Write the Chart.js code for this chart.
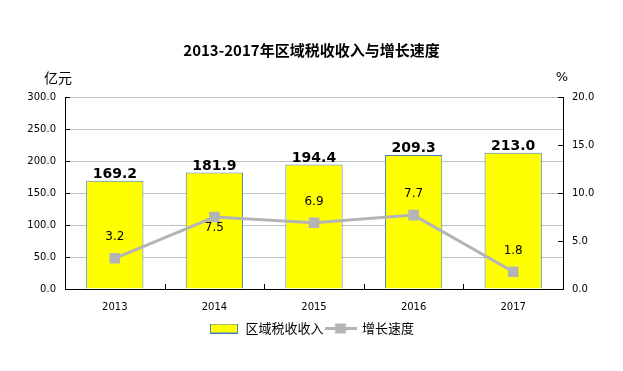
<!DOCTYPE html>
<html>
<head>
<meta charset="utf-8">
<script src="https://cdn.jsdelivr.net/npm/chart.js@4"></script>
<style>
  html, body { margin: 0; padding: 0; background: #fff; }
  #wrap { width: 623px; height: 371px; }
</style>
</head>
<body>
<div id="wrap"><canvas id="chart" width="623" height="371"></canvas></div>
<script>
const years = ['2013', '2014', '2015', '2016', '2017'];
const taxIncome = [169.2, 181.9, 194.4, 209.3, 213.0];
const growthRate = [3.2, 7.5, 6.9, 7.7, 1.8];
const leftTicks = [0, 50, 100, 150, 200, 250, 300];
const rightTicks = [0, 5, 10, 15, 20];

const CJK = '"Noto Sans CJK SC", "DejaVu Sans", sans-serif';
const NUM = '"DejaVu Sans", sans-serif';

// legend markers
function legendBarIcon() {
  const c = document.createElement('canvas');
  c.width = 28; c.height = 10;
  const g = c.getContext('2d');
  g.fillStyle = '#FFFF00';
  g.fillRect(0.5, 0.5, 27, 9);
  g.strokeStyle = '#4A7EBB';
  g.lineWidth = 1;
  g.strokeRect(0.5, 0.5, 27, 9);
  return c;
}
function legendLineIcon() {
  const c = document.createElement('canvas');
  c.width = 32; c.height = 11;
  const g = c.getContext('2d');
  g.strokeStyle = '#B4B4B4';
  g.lineWidth = 3;
  g.beginPath(); g.moveTo(0, 5.5); g.lineTo(32, 5.5); g.stroke();
  g.fillStyle = '#B4B4B4';
  g.fillRect(10.5, 0.5, 11, 10);
  return c;
}

// units, inner tick marks, value labels
const extras = {
  id: 'extras',
  afterDatasetsDraw(chart) {
    const ctx = chart.ctx;
    const x = chart.scales.x, y = chart.scales.y, y1 = chart.scales.y1;
    const area = chart.chartArea;
    ctx.save();
    ctx.strokeStyle = '#000';
    ctx.lineWidth = 1;
    ctx.beginPath();
    leftTicks.forEach(v => {
      const py = Math.round(y.getPixelForValue(v)) + 0.5;
      ctx.moveTo(area.left, py); ctx.lineTo(area.left + 5, py);
    });
    rightTicks.forEach(v => {
      const py = Math.round(y1.getPixelForValue(v)) + 0.5;
      ctx.moveTo(area.right - 5, py); ctx.lineTo(area.right, py);
    });
    for (let i = 0; i < years.length - 1; i++) {
      const px = Math.round((x.getPixelForValue(i) + x.getPixelForValue(i + 1)) / 2) + 0.5;
      ctx.moveTo(px, area.bottom); ctx.lineTo(px, area.bottom - 5);
    }
    ctx.stroke();

    ctx.fillStyle = '#000';
    ctx.textAlign = 'center';
    ctx.textBaseline = 'middle';
    ctx.font = '14px ' + CJK;
    ctx.fillText('亿元', 58, 78);
    ctx.font = '13px ' + NUM;
    ctx.fillText('%', 562, 78);

    const bars = chart.getDatasetMeta(0).data;
    ctx.font = 'bold 14px ' + NUM;
    ctx.textBaseline = 'alphabetic';
    bars.forEach((b, i) => {
      ctx.fillText(taxIncome[i].toFixed(1), b.x, b.y - 3);
    });
    const pts = chart.getDatasetMeta(1).data;
    ctx.font = '12px ' + NUM;
    ctx.textBaseline = 'middle';
    pts.forEach((p, i) => {
      const below = i === 1;
      ctx.fillText(growthRate[i].toFixed(1), p.x, below ? p.y + 11 : p.y - 21);
    });
    ctx.restore();
  }
};

new Chart(document.getElementById('chart'), {
  type: 'bar',
  data: {
    labels: years,
    datasets: [{
      type: 'bar',
      label: '区域税收收入',
      data: taxIncome,
      yAxisID: 'y',
      backgroundColor: '#FFFF00',
      borderColor: '#4A7EBB',
      borderWidth: 1,
      categoryPercentage: 1,
      barPercentage: 0.575,
      order: 2
    }, {
      type: 'line',
      label: '增长速度',
      data: growthRate,
      yAxisID: 'y1',
      borderColor: '#B4B4B4',
      backgroundColor: '#B4B4B4',
      borderWidth: 3,
      pointStyle: 'rect',
      pointRadius: 7.5,
      pointBorderWidth: 0,
      pointBackgroundColor: '#B4B4B4',
      order: 1
    }]
  },
  options: {
    responsive: false,
    animation: false,
    layout: { padding: { left: 0, right: 0, top: 0, bottom: 26 } },
    plugins: {
      title: {
        display: true,
        text: '2013-2017年区域税收收入与增长速度',
        color: '#000',
        font: { family: CJK, size: 15, weight: 'bold', lineHeight: 1.2 },
        padding: { top: 41, bottom: 38 }
      },
      legend: {
        position: 'bottom',
        labels: {
          usePointStyle: true,
          pointStyleWidth: 30,
          color: '#000',
          font: { family: CJK, size: 13 },
          padding: 2,
          generateLabels(chart) {
            const icons = [legendBarIcon(), legendLineIcon()];
            return chart.data.datasets.map((ds, i) => ({
              text: ds.label,
              pointStyle: icons[i],
              fillStyle: ds.backgroundColor,
              strokeStyle: ds.borderColor,
              lineWidth: 0,
              hidden: false,
              datasetIndex: i,
              fontColor: '#000'
            }));
          }
        }
      },
      tooltip: { enabled: false }
    },
    scales: {
      x: {
        offset: true,
        grid: { display: false },
        border: { color: '#000', width: 1 },
        ticks: { color: '#000', font: { family: NUM, size: 10 }, padding: 4 },
        afterFit(s) { s.height = 31; }
      },
      y: {
        position: 'left',
        min: 0, max: 300,
        afterBuildTicks(s) { s.ticks = leftTicks.map(v => ({ value: v })); },
        grid: { color: '#BFBFBF', drawTicks: false },
        border: { color: '#000', width: 1 },
        ticks: { color: '#000', font: { family: NUM, size: 10 }, padding: 9, callback: v => v.toFixed(1) },
        afterFit(s) { s.width = 65; }
      },
      y1: {
        position: 'right',
        min: 0, max: 20,
        afterBuildTicks(s) { s.ticks = rightTicks.map(v => ({ value: v })); },
        grid: { drawOnChartArea: false, drawTicks: false },
        border: { color: '#000', width: 1 },
        ticks: { color: '#000', font: { family: NUM, size: 10 }, padding: 9, callback: v => v.toFixed(1) },
        afterFit(s) { s.width = 60; }
      }
    }
  },
  plugins: [extras]
});
</script>
</body>
</html>
